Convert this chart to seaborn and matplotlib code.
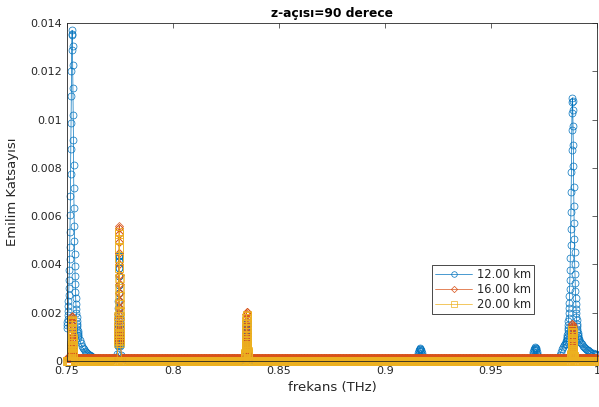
import numpy as np
import pandas as pd
import matplotlib
matplotlib.use("Agg")
import matplotlib.pyplot as plt
import seaborn as sns

# emission values in units of 1e-3, frequencies in THz
labels = ["12.00 km", "16.00 km", "20.00 km"]
colors = ["#0072BD", "#D95319", "#EDB120"]
markers = ["o", "D", "s"]
marker_sizes = [5.0, 3.8, 5.3]

x_ticks = [0.75, 0.8, 0.85, 0.9, 0.95, 1.0]
x_tick_labels = ["0.75", "0.8", "0.85", "0.9", "0.95", "1"]
y_ticks = [0, 0.002, 0.004, 0.006, 0.008, 0.01, 0.012, 0.014]
y_tick_labels = ["0", "0.002", "0.004", "0.006", "0.008", "0.01", "0.012", "0.014"]

# flat level of each curve away from the peaks
base_12 = 0.03
base_16 = 0.12
base_20 = 0.0

# ---- 12.00 km ----
# peak 0.7524 THz, every 0.0001 THz from 0.7500
b12_p1 = [1.37, 1.48, 1.60, 1.74, 1.89, 2.06, 2.26, 2.48, 2.74, 3.03, 3.37, 3.76,
          4.22, 4.74, 5.35, 6.05, 6.85, 7.76, 8.77, 9.85, 10.96, 12.01, 12.89, 13.49,
          13.70, 13.55, 13.05, 12.25, 11.30, 10.20, 9.15, 8.10, 7.15, 6.35, 5.60, 4.97,
          4.42, 3.95, 3.53, 3.17, 2.86, 2.59, 2.36, 2.15, 1.97, 1.81, 1.67, 1.54, 1.43,
          1.33, 1.24, 1.16, 1.09, 1.02, 0.96]
# tail, every 0.0005 THz from 0.7559
b12_p1_tail = [0.85, 0.73, 0.63, 0.55, 0.48, 0.42, 0.37, 0.33, 0.29, 0.26, 0.23, 0.20,
               0.17, 0.15, 0.13, 0.11, 0.09, 0.07, 0.05]
# peak 0.7745 THz: wings every 0.0005, core every 0.00003 from 0.7739
b12_p2_left = [0.03, 0.05, 0.08, 0.12, 0.18, 0.28]
b12_p2 = [0.61, 0.66, 0.73, 0.80, 0.88, 0.97, 1.08, 1.21, 1.35, 1.52, 1.72, 1.94, 2.20,
          2.49, 2.82, 3.16, 3.52, 3.86, 4.14, 4.33, 4.40, 4.33, 4.14, 3.86, 3.52, 3.16,
          2.82, 2.49, 2.20, 1.94, 1.72, 1.52, 1.35, 1.21, 1.08, 0.97, 0.88, 0.80, 0.73,
          0.66, 0.61]
b12_p2_right = [0.26, 0.17, 0.11, 0.07, 0.05, 0.03]
# peak 0.8347 THz
b12_p3_left = [0.05, 0.09, 0.16]
b12_p3 = [0.22, 0.24, 0.26, 0.29, 0.32, 0.35, 0.39, 0.44, 0.49, 0.55, 0.62, 0.71, 0.80,
          0.91, 1.02, 1.15, 1.28, 1.40, 1.51, 1.58, 1.60, 1.58, 1.51, 1.40, 1.28, 1.15,
          1.02, 0.91, 0.80, 0.71, 0.62, 0.55, 0.49, 0.44, 0.39, 0.35, 0.32, 0.29, 0.26,
          0.24, 0.22]
b12_p3_right = [0.16, 0.09, 0.05]
# small bumps at 0.9165 and 0.9708 THz, every 0.0002 THz
b12_p4 = [0.05, 0.10, 0.17, 0.25, 0.33, 0.41, 0.47, 0.51, 0.53, 0.51, 0.47, 0.41, 0.33,
          0.25, 0.17, 0.10, 0.05]
b12_p5 = [0.05, 0.11, 0.19, 0.28, 0.37, 0.45, 0.51, 0.55, 0.57, 0.55, 0.51, 0.45, 0.37,
          0.28, 0.19, 0.11, 0.05]
# peak 0.9884 THz: left wing from 0.9804, core every 0.0001 from 0.9854, right wing from 0.9919
b12_p6_left = [0.04, 0.06, 0.09, 0.15, 0.25, 0.37, 0.50, 0.60, 0.66, 0.70]
b12_p6 = [0.72, 0.77, 0.82, 0.88, 0.94, 1.01, 1.09, 1.18, 1.27, 1.38, 1.50, 1.64, 1.80,
          1.98, 2.18, 2.41, 2.68, 2.99, 3.35, 3.77, 4.25, 4.81, 5.45, 6.17, 6.98, 7.84,
          8.72, 9.56, 10.26, 10.73, 10.90, 10.78, 10.38, 9.75, 8.95, 8.08, 7.22, 6.42,
          5.70, 5.06, 4.50, 4.01, 3.59, 3.22, 2.90, 2.62, 2.38, 2.17, 1.98, 1.82, 1.68,
          1.55, 1.43, 1.33, 1.24, 1.16, 1.09, 1.02, 0.96, 0.91, 0.86]
b12_p6_right = [0.80, 0.74, 0.69, 0.64, 0.59, 0.55, 0.51, 0.47, 0.44, 0.41, 0.38, 0.35,
                0.33, 0.31, 0.29, 0.27, 0.25]

# ---- 16.00 km ---- (cores every 0.00003 THz)
o16_p1 = [0.26, 0.28, 0.31, 0.34, 0.37, 0.41, 0.46, 0.51, 0.57, 0.64, 0.72, 0.82, 0.93,
          1.05, 1.18, 1.33, 1.48, 1.62, 1.74, 1.82, 1.85, 1.82, 1.74, 1.62, 1.48, 1.33,
          1.18, 1.05, 0.93, 0.82, 0.72, 0.64, 0.57, 0.51, 0.46, 0.41, 0.37, 0.34, 0.31,
          0.28, 0.26]
o16_p2 = [0.77, 0.84, 0.92, 1.02, 1.12, 1.24, 1.38, 1.54, 1.72, 1.94, 2.19, 2.47, 2.80,
          3.17, 3.58, 4.03, 4.48, 4.91, 5.27, 5.51, 5.60, 5.51, 5.27, 4.91, 4.48, 4.03,
          3.58, 3.17, 2.80, 2.47, 2.19, 1.94, 1.72, 1.54, 1.38, 1.24, 1.12, 1.02, 0.92,
          0.84, 0.77]
o16_p3 = [0.28, 0.31, 0.34, 0.37, 0.41, 0.45, 0.50, 0.56, 0.63, 0.71, 0.80, 0.90, 1.03,
          1.16, 1.31, 1.47, 1.64, 1.80, 1.93, 2.02, 2.05, 2.02, 1.93, 1.80, 1.64, 1.47,
          1.31, 1.16, 1.03, 0.90, 0.80, 0.71, 0.63, 0.56, 0.50, 0.45, 0.41, 0.37, 0.34,
          0.31, 0.28]
o16_p6 = [0.21, 0.23, 0.26, 0.28, 0.31, 0.34, 0.38, 0.43, 0.48, 0.54, 0.60, 0.68, 0.78,
          0.88, 0.99, 1.11, 1.24, 1.36, 1.46, 1.53, 1.55, 1.53, 1.46, 1.36, 1.24, 1.11,
          0.99, 0.88, 0.78, 0.68, 0.60, 0.54, 0.48, 0.43, 0.38, 0.34, 0.31, 0.28, 0.26,
          0.23, 0.21]

# ---- 20.00 km ---- (cores every 0.00003 THz)
y20_p1 = [0.23, 0.26, 0.28, 0.31, 0.34, 0.38, 0.42, 0.47, 0.52, 0.59, 0.66, 0.75, 0.85,
          0.96, 1.09, 1.22, 1.36, 1.49, 1.60, 1.67, 1.70, 1.67, 1.60, 1.49, 1.36, 1.22,
          1.09, 0.96, 0.85, 0.75, 0.66, 0.59, 0.52, 0.47, 0.42, 0.38, 0.34, 0.31, 0.28,
          0.26, 0.23]
y20_p2 = [0.74, 0.81, 0.88, 0.97, 1.07, 1.18, 1.32, 1.47, 1.65, 1.85, 2.09, 2.36, 2.68,
          3.03, 3.42, 3.85, 4.28, 4.69, 5.04, 5.27, 5.35, 5.27, 5.04, 4.69, 4.28, 3.85,
          3.42, 3.03, 2.68, 2.36, 2.09, 1.85, 1.65, 1.47, 1.32, 1.18, 1.07, 0.97, 0.88,
          0.81, 0.74]
y20_p3 = [0.26, 0.29, 0.31, 0.34, 0.38, 0.42, 0.47, 0.52, 0.58, 0.66, 0.74, 0.84, 0.95,
          1.08, 1.22, 1.37, 1.52, 1.67, 1.79, 1.87, 1.90, 1.87, 1.79, 1.67, 1.52, 1.37,
          1.22, 1.08, 0.95, 0.84, 0.74, 0.66, 0.58, 0.52, 0.47, 0.42, 0.38, 0.34, 0.31,
          0.29, 0.26]
y20_p6 = [0.18, 0.20, 0.21, 0.24, 0.26, 0.29, 0.32, 0.36, 0.40, 0.45, 0.51, 0.57, 0.65,
          0.74, 0.83, 0.93, 1.04, 1.14, 1.22, 1.28, 1.30, 1.28, 1.22, 1.14, 1.04, 0.93,
          0.83, 0.74, 0.65, 0.57, 0.51, 0.45, 0.40, 0.36, 0.32, 0.29, 0.26, 0.24, 0.21,
          0.20, 0.18]

seg_12 = [(0.7500, 0.0001, b12_p1), (0.7559, 0.0005, b12_p1_tail),
          (0.7709, 0.0005, b12_p2_left), (0.7739, 0.00003, b12_p2), (0.7756, 0.0005, b12_p2_right),
          (0.8326, 0.0005, b12_p3_left), (0.8341, 0.00003, b12_p3), (0.8358, 0.0005, b12_p3_right),
          (0.9149, 0.0002, b12_p4), (0.9692, 0.0002, b12_p5),
          (0.9804, 0.0005, b12_p6_left), (0.9854, 0.0001, b12_p6), (0.9919, 0.0005, b12_p6_right)]
seg_16 = [(0.7518, 0.00003, o16_p1), (0.7740, 0.00003, o16_p2),
          (0.8341, 0.00003, o16_p3), (0.9878, 0.00003, o16_p6)]
seg_20 = [(0.7518, 0.00003, y20_p1), (0.7740, 0.00003, y20_p2),
          (0.8341, 0.00003, y20_p3), (0.9878, 0.00003, y20_p6)]

grid = np.arange(0.75, 1.00001, 0.0002)


def build_curve(segments, base):
    f, v = [], []
    for start, step, vals in segments:
        f += [start + step * i for i in range(len(vals))]
        v += vals
    spans = [(s, s + st * (len(vals) - 1)) for s, st, vals in segments]
    for g in grid:
        if not any(a - 0.0004 <= g <= b + 0.0004 for a, b in spans):
            f.append(g)
            v.append(base)
    df = pd.DataFrame({"frekans": f, "emilim": np.array(v) * 1e-3})
    return df.sort_values("frekans")


curves = [build_curve(seg_12, base_12), build_curve(seg_16, base_16), build_curve(seg_20, base_20)]

sns.set_theme(style="white")
plt.rcParams["font.family"] = ["DejaVu Sans"]
txt = "#262626"

fig = plt.figure(figsize=(5.99, 4.07), dpi=100)
ax = fig.add_axes([67 / 599, 46 / 407, 530 / 599, 338 / 407])

for df, lab, col, mk, ms in zip(curves, labels, colors, markers, marker_sizes):
    sns.lineplot(data=df, x="frekans", y="emilim", ax=ax, color=col, marker=mk,
                 markersize=ms, markerfacecolor="none", markeredgecolor=col,
                 markeredgewidth=0.5, linewidth=0.5, estimator=None, errorbar=None,
                 label=lab, clip_on=False)

ax.set_xlim(0.75, 1.0)
ax.set_ylim(0, 0.014)
ax.set_xticks(x_ticks)
ax.set_xticklabels(x_tick_labels)
ax.set_yticks(y_ticks)
ax.set_yticklabels(y_tick_labels)
ax.tick_params(direction="in", top=True, right=True, length=3.5, width=0.5,
               labelsize=8, colors=txt, pad=3.5)
for sp in ax.spines.values():
    sp.set_visible(True)
    sp.set_color(txt)
    sp.set_linewidth(0.6)

ax.set_xlabel("frekans (THz)", fontsize=9.5, color=txt, labelpad=4)
ax.set_ylabel("Emilim Katsayısı", fontsize=9.5, color=txt, labelpad=8)
ax.set_title("z-açısı=90 derece", fontsize=8.8, fontweight="bold", color="black", pad=4)

leg = ax.legend(loc="lower left", bbox_to_anchor=(0.689, 0.139), borderaxespad=0,
                fontsize=8.3, frameon=True, fancybox=False, edgecolor="black",
                framealpha=1, handlelength=3.2, handletextpad=0.4, labelspacing=0.15,
                borderpad=0.28, numpoints=1)
leg.get_frame().set_linewidth(0.5)
for t in leg.get_texts():
    t.set_color(txt)
for h in leg.legend_handles:
    h.set_markersize(4.0 if h.get_marker() != "D" else 3.2)

fig.savefig("out.png", dpi=100)
